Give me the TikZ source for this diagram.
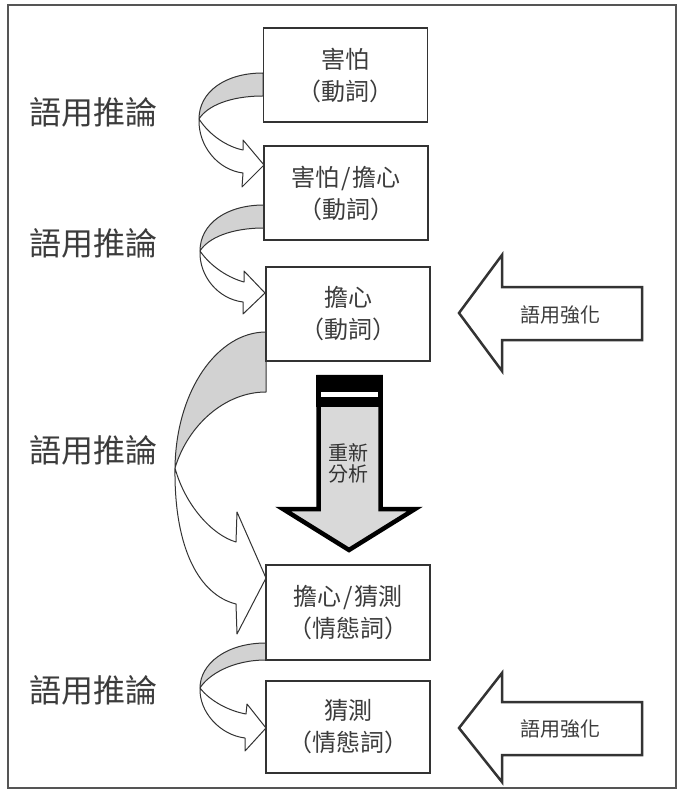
\documentclass[tikz,border=0pt]{standalone}
\usepackage{fontspec}
\newfontfamily\cjk{Noto Sans CJK TC}
\usetikzlibrary{calc}
\definecolor{ink}{HTML}{333333}
\definecolor{txt}{HTML}{3C3C3C}
\definecolor{band}{HTML}{D2D2D2}
\definecolor{fillg}{HTML}{D9D9D9}
\definecolor{framec}{HTML}{555555}
\begin{document}
\begin{tikzpicture}[x=1pt,y=-1pt,
  box/.style={draw=ink, line width=1.6pt, minimum width=164pt, minimum height=94pt,
    outer sep=0pt, inner sep=0pt, align=center, fill=white, text=txt,
    font=\cjk\fontsize{24}{32}\selectfont},
  sidelabel/.style={font=\cjk\fontsize{32}{32}\selectfont, text=txt, anchor=west, inner sep=0pt},
  ribbon/.style={draw=ink, line width=1pt, line join=round},
  pushstyle/.style={draw=ink, line width=2.5pt, fill=white, line join=miter},
  pushtext/.style={font=\cjk\fontsize{20}{20}\selectfont, text=txt, inner sep=0pt},
]
\useasboundingbox (0,0) rectangle (683,791);
\fill[white] (0,0) rectangle (683,791);
\draw[framec, line width=1.6pt] (8,5) rectangle (676,788);

% ---------- ribbon arrow 1: box1 -> box2
\coordinate (a1A) at (263,73);
\coordinate (a1C) at (263,96);
\coordinate (a1T) at (199,119);
\coordinate (a1D) at (243,150);
\coordinate (a1U) at (243,140);
\coordinate (a1P) at (264,165);
\coordinate (a1L) at (242,187);
\coordinate (a1B) at (243,173);
\filldraw[ribbon, fill=band] (a1A) .. controls (225,73) and (199,92) .. (a1T)
   .. controls (207,106) and (230,96) .. (a1C) -- cycle;
\filldraw[ribbon, fill=white] (a1T) .. controls (210,136) and (228,147) .. (a1D)
   -- (a1U) -- (a1P) -- (a1L) -- (a1B) .. controls (218,170) and (198,146) .. (a1T) -- cycle;

% ---------- ribbon arrow 2: box2 -> box3
\coordinate (a2A) at (264,205);
\coordinate (a2C) at (264,228);
\coordinate (a2T) at (200,251);
\coordinate (a2D) at (244,282);
\coordinate (a2U) at (244,271);
\coordinate (a2P) at (265,293);
\coordinate (a2L) at (243,314);
\coordinate (a2B) at (243,302);
\filldraw[ribbon, fill=band] (a2A) .. controls (226,205) and (200,224) .. (a2T)
   .. controls (208,238) and (231,228) .. (a2C) -- cycle;
\filldraw[ribbon, fill=white] (a2T) .. controls (211,267) and (229,278) .. (a2D)
   -- (a2U) -- (a2P) -- (a2L) -- (a2B) .. controls (218,299) and (199,276) .. (a2T) -- cycle;

% ---------- big ribbon arrow 3: box3 -> box4
\coordinate (a3A) at (266,332);
\coordinate (a3C) at (266,392);
\coordinate (a3T) at (175,468);
\coordinate (a3D) at (236,542);
\coordinate (a3U) at (237,512);
\coordinate (a3P) at (266,578);
\coordinate (a3L) at (237,634);
\coordinate (a3B) at (236,604);
\filldraw[ribbon, fill=band] (a3A) .. controls (218,332) and (176,390) .. (a3T)
   .. controls (188,425) and (225,392) .. (a3C) -- cycle;
\filldraw[ribbon, fill=white] (a3T) .. controls (185,505) and (212,535) .. (a3D)
   -- (a3U) -- (a3P) -- (a3L) -- (a3B) .. controls (200,595) and (174,550) .. (a3T) -- cycle;

% ---------- ribbon arrow 4: box4 -> box5
\coordinate (a4A) at (266,643);
\coordinate (a4C) at (266,660);
\coordinate (a4T) at (200,688);
\coordinate (a4D) at (246,714);
\coordinate (a4U) at (247,704);
\coordinate (a4P) at (266,728);
\coordinate (a4L) at (245,751);
\coordinate (a4B) at (245,738);
\filldraw[ribbon, fill=band] (a4A) .. controls (226,643) and (200,664) .. (a4T)
   .. controls (208,675) and (232,660) .. (a4C) -- cycle;
\filldraw[ribbon, fill=white] (a4T) .. controls (210,701) and (229,711) .. (a4D)
   -- (a4U) -- (a4P) -- (a4L) -- (a4B) .. controls (220,735) and (199,712) .. (a4T) -- cycle;

% ---------- boxes
\node[box] (b1) at (345.5,75) {害怕\\（動詞）};
\node[box] (b2) at (346,193) {害怕\hspace{2pt}/\hspace{2pt}擔心\\（動詞）};
\node[box] (b3) at (348,314) {擔心\\（動詞）};
\node[box, minimum height=95pt] (b4) at (348,612.5) {擔心\hspace{2pt}/\hspace{2pt}猜測\\（情態詞）};
\node[box, minimum height=92pt] (b5) at (348,727) {猜測\\（情態詞）};

% ---------- big down arrow (重新分析)
\filldraw[fill=fillg, draw=black, line width=4.5pt, line join=miter]
  (318.5,377) -- (380.5,377) -- (380.5,509) -- (415,509) -- (349,550)
  -- (283,509) -- (318.5,509) -- cycle;
\fill[black] (316,375) rectangle (383,407);
\fill[white] (321,392) rectangle (378,397);
\node[font=\cjk\fontsize{20}{21}\selectfont, text=ink, align=center, inner sep=0pt]
  (reana) at (348,463) {重新\\分析};

% ---------- pragmatic strengthening arrows
\filldraw[pushstyle] (459,313) -- (502,255) -- (502,287) -- (642,287) -- (642,340)
  -- (502,340) -- (502,371) -- cycle;
\node[pushtext] (ps1) at (560,315) {語用強化};
\filldraw[pushstyle] (459,728) -- (502,673) -- (502,702) -- (642,702) -- (642,755)
  -- (502,755) -- (502,782) -- cycle;
\node[pushtext] (ps2) at (560,729) {語用強化};

% ---------- side labels
\node[sidelabel] (l1) at (29,112) {語用推論};
\node[sidelabel] (l2) at (29,243) {語用推論};
\node[sidelabel] (l3) at (29,450) {語用推論};
\node[sidelabel] (l4) at (29,690) {語用推論};
\end{tikzpicture}
\end{document}
